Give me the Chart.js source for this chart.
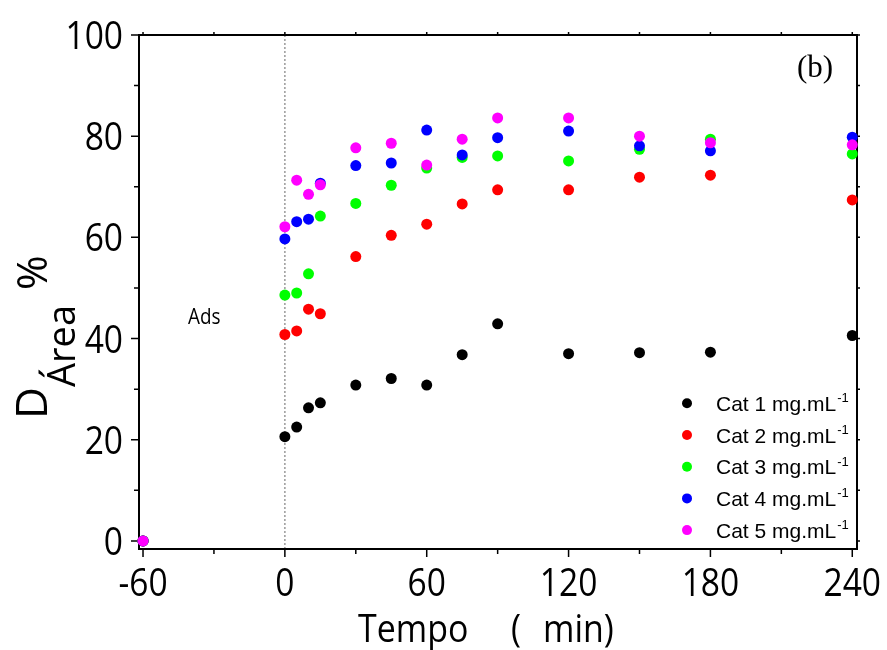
<!DOCTYPE html>
<html>
<head>
<meta charset="utf-8">
<script src="https://cdn.jsdelivr.net/npm/chart.js@4"></script>
<style>
  body { margin: 0; background: #fff; }
  canvas { display: block; }
</style>
</head>
<body>
<canvas id="grafico" width="887" height="650"></canvas>
<script>
// Datos
const tempo = [-60, 0, 5, 10, 15, 30, 45, 60, 75, 90, 120, 150, 180, 240];
const cat1 = [0, 20.6, 22.5, 26.3, 27.3, 30.8, 32.1, 30.8, 36.8, 42.9, 37.0, 37.2, 37.3, 40.6];
const cat2 = [0, 40.8, 41.5, 45.8, 44.9, 56.2, 60.4, 62.6, 66.6, 69.4, 69.4, 71.9, 72.3, 67.4];
const cat3 = [0, 48.6, 49.0, 52.8, 64.2, 66.7, 70.3, 73.7, 75.8, 76.1, 75.1, 77.4, 79.4, 76.5];
const cat4 = [0, 59.7, 63.1, 63.6, 70.7, 74.2, 74.7, 81.2, 76.3, 79.7, 81.0, 78.1, 77.1, 79.8];
const cat5 = [0, 62.1, 71.3, 68.5, 70.4, 77.7, 78.6, 74.3, 79.4, 83.6, 83.6, 80.0, 78.7, 78.3];

const etiquetas = ["Cat 1 mg.mL", "Cat 2 mg.mL", "Cat 3 mg.mL", "Cat 4 mg.mL", "Cat 5 mg.mL"];
const colores = ["#000000", "#ff0000", "#00ff00", "#0000ff", "#ff00ff"];
const series = [cat1, cat2, cat3, cat4, cat5];

const xTicks = [-60, 0, 60, 120, 180, 240];
const yTicks = [0, 20, 40, 60, 80, 100];

const FUENTE = '"Open Sans", "Noto Sans", sans-serif';
const FUENTE_LEY = '"Liberation Sans", Arial, sans-serif';

// texto estrechado horizontalmente
function textoEstrecho(ctx, txt, x, y, sx, align) {
    ctx.save();
    ctx.translate(x, y);
    ctx.scale(sx, 1);
    ctx.textAlign = align || 'left';
    ctx.fillText(txt, 0, 0);
    ctx.restore();
}

const marco = {
    id: 'marco',
    beforeDatasetsDraw(chart) {
        const { ctx, chartArea: a, scales: { x, y } } = chart;
        ctx.save();
        // línea punteada en t = 0
        const x0 = x.getPixelForValue(0);
        ctx.strokeStyle = '#9a9a9a';
        ctx.lineWidth = 1.5;
        ctx.setLineDash([2, 2]);
        ctx.beginPath();
        ctx.moveTo(x0, a.top);
        ctx.lineTo(x0, a.bottom);
        ctx.stroke();
        ctx.setLineDash([]);

        // marco
        ctx.strokeStyle = '#000';
        ctx.lineWidth = 2;
        ctx.strokeRect(a.left, a.top, a.right - a.left, a.bottom - a.top);

        // marcas de los ejes
        ctx.lineWidth = 1.5;
        ctx.beginPath();
        for (let v = -60; v <= 240; v += 30) {
            const px = x.getPixelForValue(v);
            const largo = (v % 60 === 0) ? 8 : 5;
            ctx.moveTo(px, a.bottom);
            ctx.lineTo(px, a.bottom + largo);
            ctx.moveTo(px, a.top);
            ctx.lineTo(px, a.top - 3);
        }
        for (let v = 0; v <= 100; v += 10) {
            const py = y.getPixelForValue(v);
            const largo = (v % 20 === 0) ? 8 : 5;
            ctx.moveTo(a.left, py);
            ctx.lineTo(a.left - largo, py);
            ctx.moveTo(a.right, py);
            ctx.lineTo(a.right + 3, py);
        }
        ctx.stroke();
        ctx.restore();
    },
    afterDraw(chart) {
        const { ctx, scales: { x, y } } = chart;
        ctx.save();
        ctx.fillStyle = '#000';
        ctx.textBaseline = 'alphabetic';

        // etiquetas de los ejes
        ctx.font = '39px ' + FUENTE;
        yTicks.forEach(v => {
            textoEstrecho(ctx, String(v), 123, y.getPixelForValue(v) + 14, 0.86, 'right');
        });
        xTicks.forEach(v => {
            textoEstrecho(ctx, String(v), x.getPixelForValue(v), 596, 0.86, 'center');
        });

        // título eje x
        textoEstrecho(ctx, 'Tempo', 358, 642, 0.87, 'left');
        textoEstrecho(ctx, '(', 511, 642, 0.87, 'left');
        textoEstrecho(ctx, 'min)', 543, 642, 0.87, 'left');

        // título eje y (rotado)
        ctx.save();
        ctx.rotate(-Math.PI / 2);
        ctx.font = '44px ' + FUENTE;
        ctx.fillText('D', -419, 47);
        ctx.font = '38px ' + FUENTE;
        ctx.fillText('Área', -387, 75);
        ctx.font = '42px ' + FUENTE;
        ctx.fillText('%', -290, 47);
        ctx.restore();

        // (b) y Ads
        ctx.font = '31px "Liberation Serif", serif';
        ctx.textAlign = 'left';
        ctx.fillText('(b)', 797, 77);
        ctx.font = '21px ' + FUENTE;
        textoEstrecho(ctx, 'Ads', 188, 324, 0.9, 'left');

        // leyenda
        chart.data.datasets.forEach((ds, i) => {
            const my = 403.3 + 31.7 * i;
            ctx.fillStyle = ds.backgroundColor;
            ctx.beginPath();
            ctx.arc(687, my, 5, 0, Math.PI * 2);
            ctx.fill();
            ctx.fillStyle = '#000';
            ctx.font = '21px ' + FUENTE_LEY;
            ctx.fillText(ds.label, 716, my + 7.7);
            const w = ctx.measureText(ds.label).width;
            ctx.font = '13px ' + FUENTE_LEY;
            ctx.fillText('-1', 716 + w + 1, my - 1);
        });
        ctx.restore();
    }
};

const datasets = series.map((serie, i) => ({
    label: etiquetas[i],
    data: tempo.map((t, k) => ({ x: t, y: serie[k] })),
    backgroundColor: colores[i],
    borderColor: colores[i],
    borderWidth: 0,
    pointRadius: 5.5,
    pointHoverRadius: 5.5,
    clip: false,
    order: 5 - i
}));

function dibujar() {
    new Chart(document.getElementById('grafico'), {
        type: 'scatter',
        data: { datasets: datasets },
        options: {
            responsive: false,
            animation: false,
            layout: { padding: { top: 35, right: 30, left: 0, bottom: 0 } },
            plugins: {
                legend: { display: false },
                tooltip: { enabled: false }
            },
            scales: {
                x: {
                    type: 'linear',
                    min: -61.7,
                    max: 242,
                    grid: { display: false },
                    border: { display: false },
                    ticks: { display: false },
                    afterFit(scale) { scale.height = 101; }
                },
                y: {
                    type: 'linear',
                    min: -1.6,
                    max: 100,
                    grid: { display: false },
                    border: { display: false },
                    ticks: { display: false },
                    afterFit(scale) { scale.width = 139; }
                }
            }
        },
        plugins: [marco]
    });
}

// esperar las fuentes antes de dibujar
Promise.all([
    document.fonts.load('39px "Open Sans"'),
    document.fonts.load('21px "Liberation Sans"'),
    document.fonts.load('31px "Liberation Serif"')
]).then(dibujar, dibujar);
</script>
</body>
</html>
